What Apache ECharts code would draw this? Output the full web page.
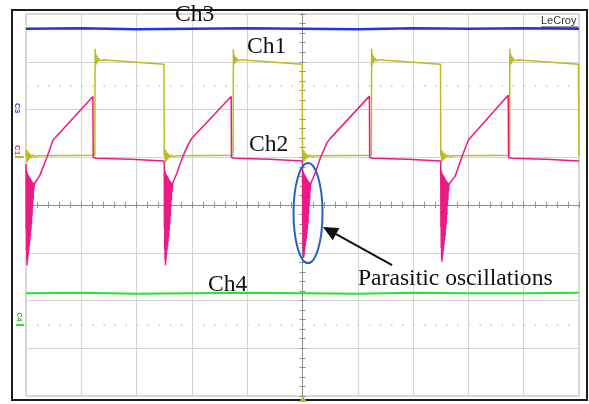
<!DOCTYPE html>
<html><head><meta charset="utf-8">
<script src="https://cdn.jsdelivr.net/npm/echarts@6/dist/echarts.min.js"></script>
<style>html,body{margin:0;padding:0;background:#fff}#c{width:589px;height:404px}</style>
</head><body><div id="c"></div>
<script>
// time in screen divisions from centre (-5..5), level in divisions (-4..4)
const ch3Blue = [[-5,3.69],[-4,3.70],[-3,3.68],[-2,3.69],[-1,3.70],[0,3.69],[1,3.68],[2,3.70],[3,3.69],[4,3.70],[5,3.69]];
const ch4Green = [[-5,-1.85],[-4,-1.84],[-3,-1.86],[-2,-1.85],[-1,-1.84],[0,-1.85],[1,-1.86],[2,-1.84],[3,-1.85],[4,-1.85],[5,-1.84]];

const ch1Yellow = [
 [-5.000,1.03],[-4.990,1.16],[-4.980,0.90],[-4.970,1.13],[-4.960,0.93],[-4.950,1.10],[-4.940,0.96],[-4.920,1.07],[-4.900,0.99],[-4.870,1.05],[-4.830,1.01],[-4.780,1.03],[-3.755,1.04],
 [-3.750,3.27],[-3.742,2.92],[-3.734,3.16],[-3.726,2.96],[-3.718,3.12],[-3.708,3.00],[-3.692,3.08],[-3.672,3.02],[-3.645,3.06],[-3.600,3.04],[-3.500,3.03],[-2.505,2.95],
 [-2.500,1.03],[-2.490,1.17],[-2.480,0.89],[-2.470,1.14],[-2.460,0.92],[-2.450,1.10],[-2.440,0.95],[-2.420,1.07],[-2.400,0.99],[-2.370,1.05],[-2.330,1.01],[-2.280,1.03],[-1.255,1.04],
 [-1.250,3.26],[-1.242,2.93],[-1.234,3.15],[-1.226,2.96],[-1.218,3.11],[-1.208,3.00],[-1.192,3.08],[-1.172,3.02],[-1.145,3.06],[-1.100,3.04],[-1.000,3.03],[-0.005,2.95],
 [0.000,1.03],[0.010,1.15],[0.020,0.91],[0.030,1.13],[0.040,0.93],[0.050,1.09],[0.060,0.96],[0.080,1.07],[0.100,0.99],[0.130,1.05],[0.170,1.01],[0.220,1.03],[1.245,1.04],
 [1.250,3.27],[1.258,2.92],[1.266,3.16],[1.274,2.96],[1.282,3.12],[1.292,3.00],[1.308,3.08],[1.328,3.02],[1.355,3.06],[1.400,3.04],[1.500,3.03],[2.495,2.95],
 [2.500,1.03],[2.510,1.16],[2.520,0.90],[2.530,1.13],[2.540,0.93],[2.550,1.10],[2.560,0.96],[2.580,1.07],[2.600,0.99],[2.630,1.05],[2.670,1.01],[2.720,1.03],[3.745,1.04],
 [3.750,3.27],[3.758,2.92],[3.766,3.16],[3.774,2.96],[3.782,3.12],[3.792,3.00],[3.808,3.08],[3.828,3.02],[3.855,3.06],[3.900,3.04],[4.000,3.03],[4.990,2.95],
 [4.998,1.03]
];

const ch2CycleA = [[-5.000,0.86],[-4.997,-0.50],[-4.994,0.72],[-4.991,-0.95],[-4.988,0.70],[-4.985,-1.15],[-4.982,0.68],[-4.979,-1.26],[-4.976,0.66],[-4.973,-1.18],[-4.970,0.65],[-4.966,-1.10],[-4.962,0.63],[-4.958,-1.02],[-4.954,0.62],[-4.950,-0.95],[-4.945,0.60],[-4.940,-0.86],[-4.935,0.58],[-4.930,-0.76],[-4.925,0.56],[-4.920,-0.66],[-4.915,0.54],[-4.910,-0.52],[-4.905,0.52],[-4.900,-0.40],[-4.895,0.50],[-4.890,-0.22],[-4.885,0.48],[-4.880,-0.02],[-4.875,0.47],[-4.870,0.12],[-4.865,0.46],[-4.860,0.30],[-4.850,0.44],[-4.750,0.62],[-4.620,1.00],[-4.510,1.36],[-3.790,2.27],[-3.785,1.00],[-3.740,0.98],[-3.100,0.96],[-2.505,0.92]];
const ch2CycleB = [[-2.500,0.86],[-2.497,-0.48],[-2.494,0.72],[-2.491,-0.92],[-2.488,0.70],[-2.485,-1.14],[-2.482,0.68],[-2.479,-1.26],[-2.476,0.66],[-2.473,-1.20],[-2.470,0.65],[-2.466,-1.12],[-2.462,0.63],[-2.458,-1.03],[-2.454,0.62],[-2.450,-0.96],[-2.445,0.60],[-2.440,-0.87],[-2.435,0.58],[-2.430,-0.77],[-2.425,0.56],[-2.420,-0.67],[-2.415,0.54],[-2.410,-0.53],[-2.405,0.52],[-2.400,-0.41],[-2.395,0.50],[-2.390,-0.24],[-2.385,0.48],[-2.380,-0.04],[-2.375,0.47],[-2.370,0.10],[-2.365,0.46],[-2.360,0.28],[-2.350,0.45],[-2.270,0.67],[-2.160,1.03],[-2.070,1.26],[-2.000,1.40],[-1.290,2.27],[-1.285,1.00],[-1.240,0.98],[-0.600,0.96],[-0.005,0.92]];
const ch2CycleC = [[0.000,0.86],[0.003,-0.42],[0.006,0.72],[0.009,-0.85],[0.012,0.70],[0.015,-1.02],[0.018,0.68],[0.021,-1.11],[0.024,0.66],[0.027,-1.06],[0.030,0.65],[0.034,-0.99],[0.038,0.63],[0.042,-0.92],[0.046,0.62],[0.050,-0.86],[0.055,0.60],[0.060,-0.78],[0.065,0.58],[0.070,-0.70],[0.075,0.56],[0.080,-0.61],[0.085,0.54],[0.090,-0.50],[0.095,0.52],[0.100,-0.38],[0.105,0.50],[0.110,-0.20],[0.115,0.48],[0.120,-0.02],[0.125,0.47],[0.130,0.12],[0.135,0.46],[0.140,0.30],[0.150,0.45],[0.230,0.67],[0.320,0.98],[0.440,1.30],[0.500,1.39],[1.210,2.28],[1.215,1.00],[1.260,0.98],[1.900,0.96],[2.495,0.92]];
const ch2CycleD = [[2.500,0.86],[2.503,-0.46],[2.506,0.72],[2.509,-0.90],[2.512,0.70],[2.515,-1.10],[2.518,0.68],[2.521,-1.19],[2.524,0.66],[2.527,-1.14],[2.530,0.65],[2.534,-1.06],[2.538,0.63],[2.542,-0.98],[2.546,0.62],[2.550,-0.91],[2.555,0.60],[2.560,-0.83],[2.565,0.58],[2.570,-0.74],[2.575,0.56],[2.580,-0.64],[2.585,0.54],[2.590,-0.51],[2.595,0.52],[2.600,-0.39],[2.605,0.50],[2.610,-0.21],[2.615,0.48],[2.620,-0.03],[2.625,0.47],[2.630,0.11],[2.635,0.46],[2.640,0.29],[2.650,0.44],[2.760,0.60],[2.890,1.03],[3.000,1.36],[3.720,2.30],[3.725,1.00],[3.770,0.98],[4.400,0.96],[5.000,0.92]];

const dottedLevels = [2.5, -2.5];
const ovalCenter = [0.10, -0.17];
const arrowTail = [1.62, -1.26];
const arrowTip = [0.37, -0.46];

const chart = echarts.init(document.getElementById('c'), null, {renderer: 'canvas'});

const axisCommon = {
  type: 'value', min: -5, max: 5, interval: 1,
  axisLabel: {show: false},
  axisLine: {show: true, onZero: true, lineStyle: {color: '#8f8f8f', width: 1}},
  axisTick: {show: true, length: 3, lineStyle: {color: '#8f8f8f'}},
  minorTick: {show: true, splitNumber: 5, length: 3, lineStyle: {color: '#8f8f8f'}}
};
const yCommon = Object.assign({}, axisCommon, {min: -4, max: 4});

function lineSeries(name, data, color, width, z, extra) {
  return Object.assign({
    name, type: 'line', data, xAxisIndex: 0, yAxisIndex: 0,
    showSymbol: false, symbol: 'none', z, animation: false, silent: true,
    lineStyle: {color, width}
  }, extra || {});
}

const option = {
  animation: false,
  backgroundColor: '#ffffff',
  grid: {left: 26, top: 14, right: 10, bottom: 8, show: true, borderColor: '#b4b4b4', borderWidth: 1},
  xAxis: [
    Object.assign({}, axisCommon, {position: 'bottom', splitLine: {show: true, lineStyle: {color: '#d4d4d4', width: 1}}}),
    Object.assign({}, axisCommon, {position: 'top', splitLine: {show: false}})
  ],
  yAxis: [
    Object.assign({}, yCommon, {position: 'left', splitLine: {show: true, lineStyle: {color: '#d4d4d4', width: 1}}}),
    Object.assign({}, yCommon, {position: 'right', splitLine: {show: false}})
  ],
  series: [
    lineSeries('Ch3', ch3Blue, '#1f33f2', 2.5, 3, {
      markLine: {silent: true, symbol: 'none', label: {show: false}, animation: false,
        lineStyle: {color: '#c4c4c4', type: [1.5, 9.56], width: 1.5},
        data: dottedLevels.map(v => ({yAxis: v}))}
    }),
    lineSeries('Ch4', ch4Green, '#2ee02e', 2, 3),
    lineSeries('Ch1', ch1Yellow, '#bcbc22', 1.5, 4),
    lineSeries('Ch2', [].concat(ch2CycleA, ch2CycleB, ch2CycleC, ch2CycleD), '#ec1a84', 1.5, 5)
  ]
};
chart.setOption(option);

const P = (pt) => chart.convertToPixel({seriesIndex: 0}, pt);
const oc = P(ovalCenter), at = P(arrowTail), ap = P(arrowTip);
const dx = ap[0] - at[0], dy = ap[1] - at[1], L = Math.hypot(dx, dy);
const ux = dx / L, uy = dy / L, headLen = 15, headW = 7;
const bx = ap[0] - ux * headLen, by = ap[1] - uy * headLen;

const serif = 'Liberation Serif';
function label(text, x, y) {
  return {type: 'text', x, y, z: 20, style: {text, fill: '#111', font: '23.6px "' + serif + '"', verticalAlign: 'middle', align: 'left'}};
}

chart.setOption({graphic: [
  {type: 'rect', z: 1, shape: {x: 12, y: 10, width: 575, height: 390}, style: {fill: 'none', stroke: '#1c1c1c', lineWidth: 2}},
  label('Ch3', 175, 15),
  label('Ch1', 247, 47),
  label('Ch2', 249, 145),
  label('Ch4', 208, 285),
  label('Parasitic oscillations', 358, 279),
  {type: 'text', x: 541, y: 21, z: 20, style: {text: 'LeCroy', fill: '#333', font: '11px "Liberation Sans"', verticalAlign: 'middle'}},
  {type: 'line', z: 20, shape: {x1: 541, y1: 27, x2: 578, y2: 27}, style: {stroke: '#333', lineWidth: 1}},
  {type: 'text', x: 17, y: 108, rotation: -Math.PI / 2, z: 20, style: {text: 'C3', fill: '#3a4ee0', font: 'bold 8px "Liberation Sans"', verticalAlign: 'middle', align: 'center'}},
  {type: 'text', x: 17, y: 150, rotation: -Math.PI / 2, z: 20, style: {text: 'C1', fill: '#d8307a', font: 'bold 8px "Liberation Sans"', verticalAlign: 'middle', align: 'center'}},
  {type: 'line', z: 20, shape: {x1: 15, y1: 157, x2: 24, y2: 157}, style: {stroke: '#bcbc22', lineWidth: 2}},
  {type: 'text', x: 19, y: 317, rotation: -Math.PI / 2, z: 20, style: {text: 'C4', fill: '#2ec02e', font: 'bold 7px "Liberation Sans"', verticalAlign: 'middle', align: 'center'}},
  {type: 'line', z: 20, shape: {x1: 16, y1: 325, x2: 24, y2: 325}, style: {stroke: '#2ee02e', lineWidth: 2}},
  {type: 'polygon', z: 20, shape: {points: [[299, 402], [307, 402], [303, 396]]}, style: {fill: '#bcbc22'}},
  {type: 'ellipse', z: 20, shape: {cx: oc[0], cy: oc[1], rx: 14.5, ry: 50}, style: {fill: 'none', stroke: '#2a5fc4', lineWidth: 2}},
  {type: 'line', z: 20, shape: {x1: at[0], y1: at[1], x2: bx, y2: by}, style: {stroke: '#111', lineWidth: 2}},
  {type: 'polygon', z: 20, shape: {points: [[ap[0], ap[1]], [bx - uy * headW, by + ux * headW], [bx + uy * headW, by - ux * headW]]}, style: {fill: '#111'}}
]});
</script>
</body></html>
